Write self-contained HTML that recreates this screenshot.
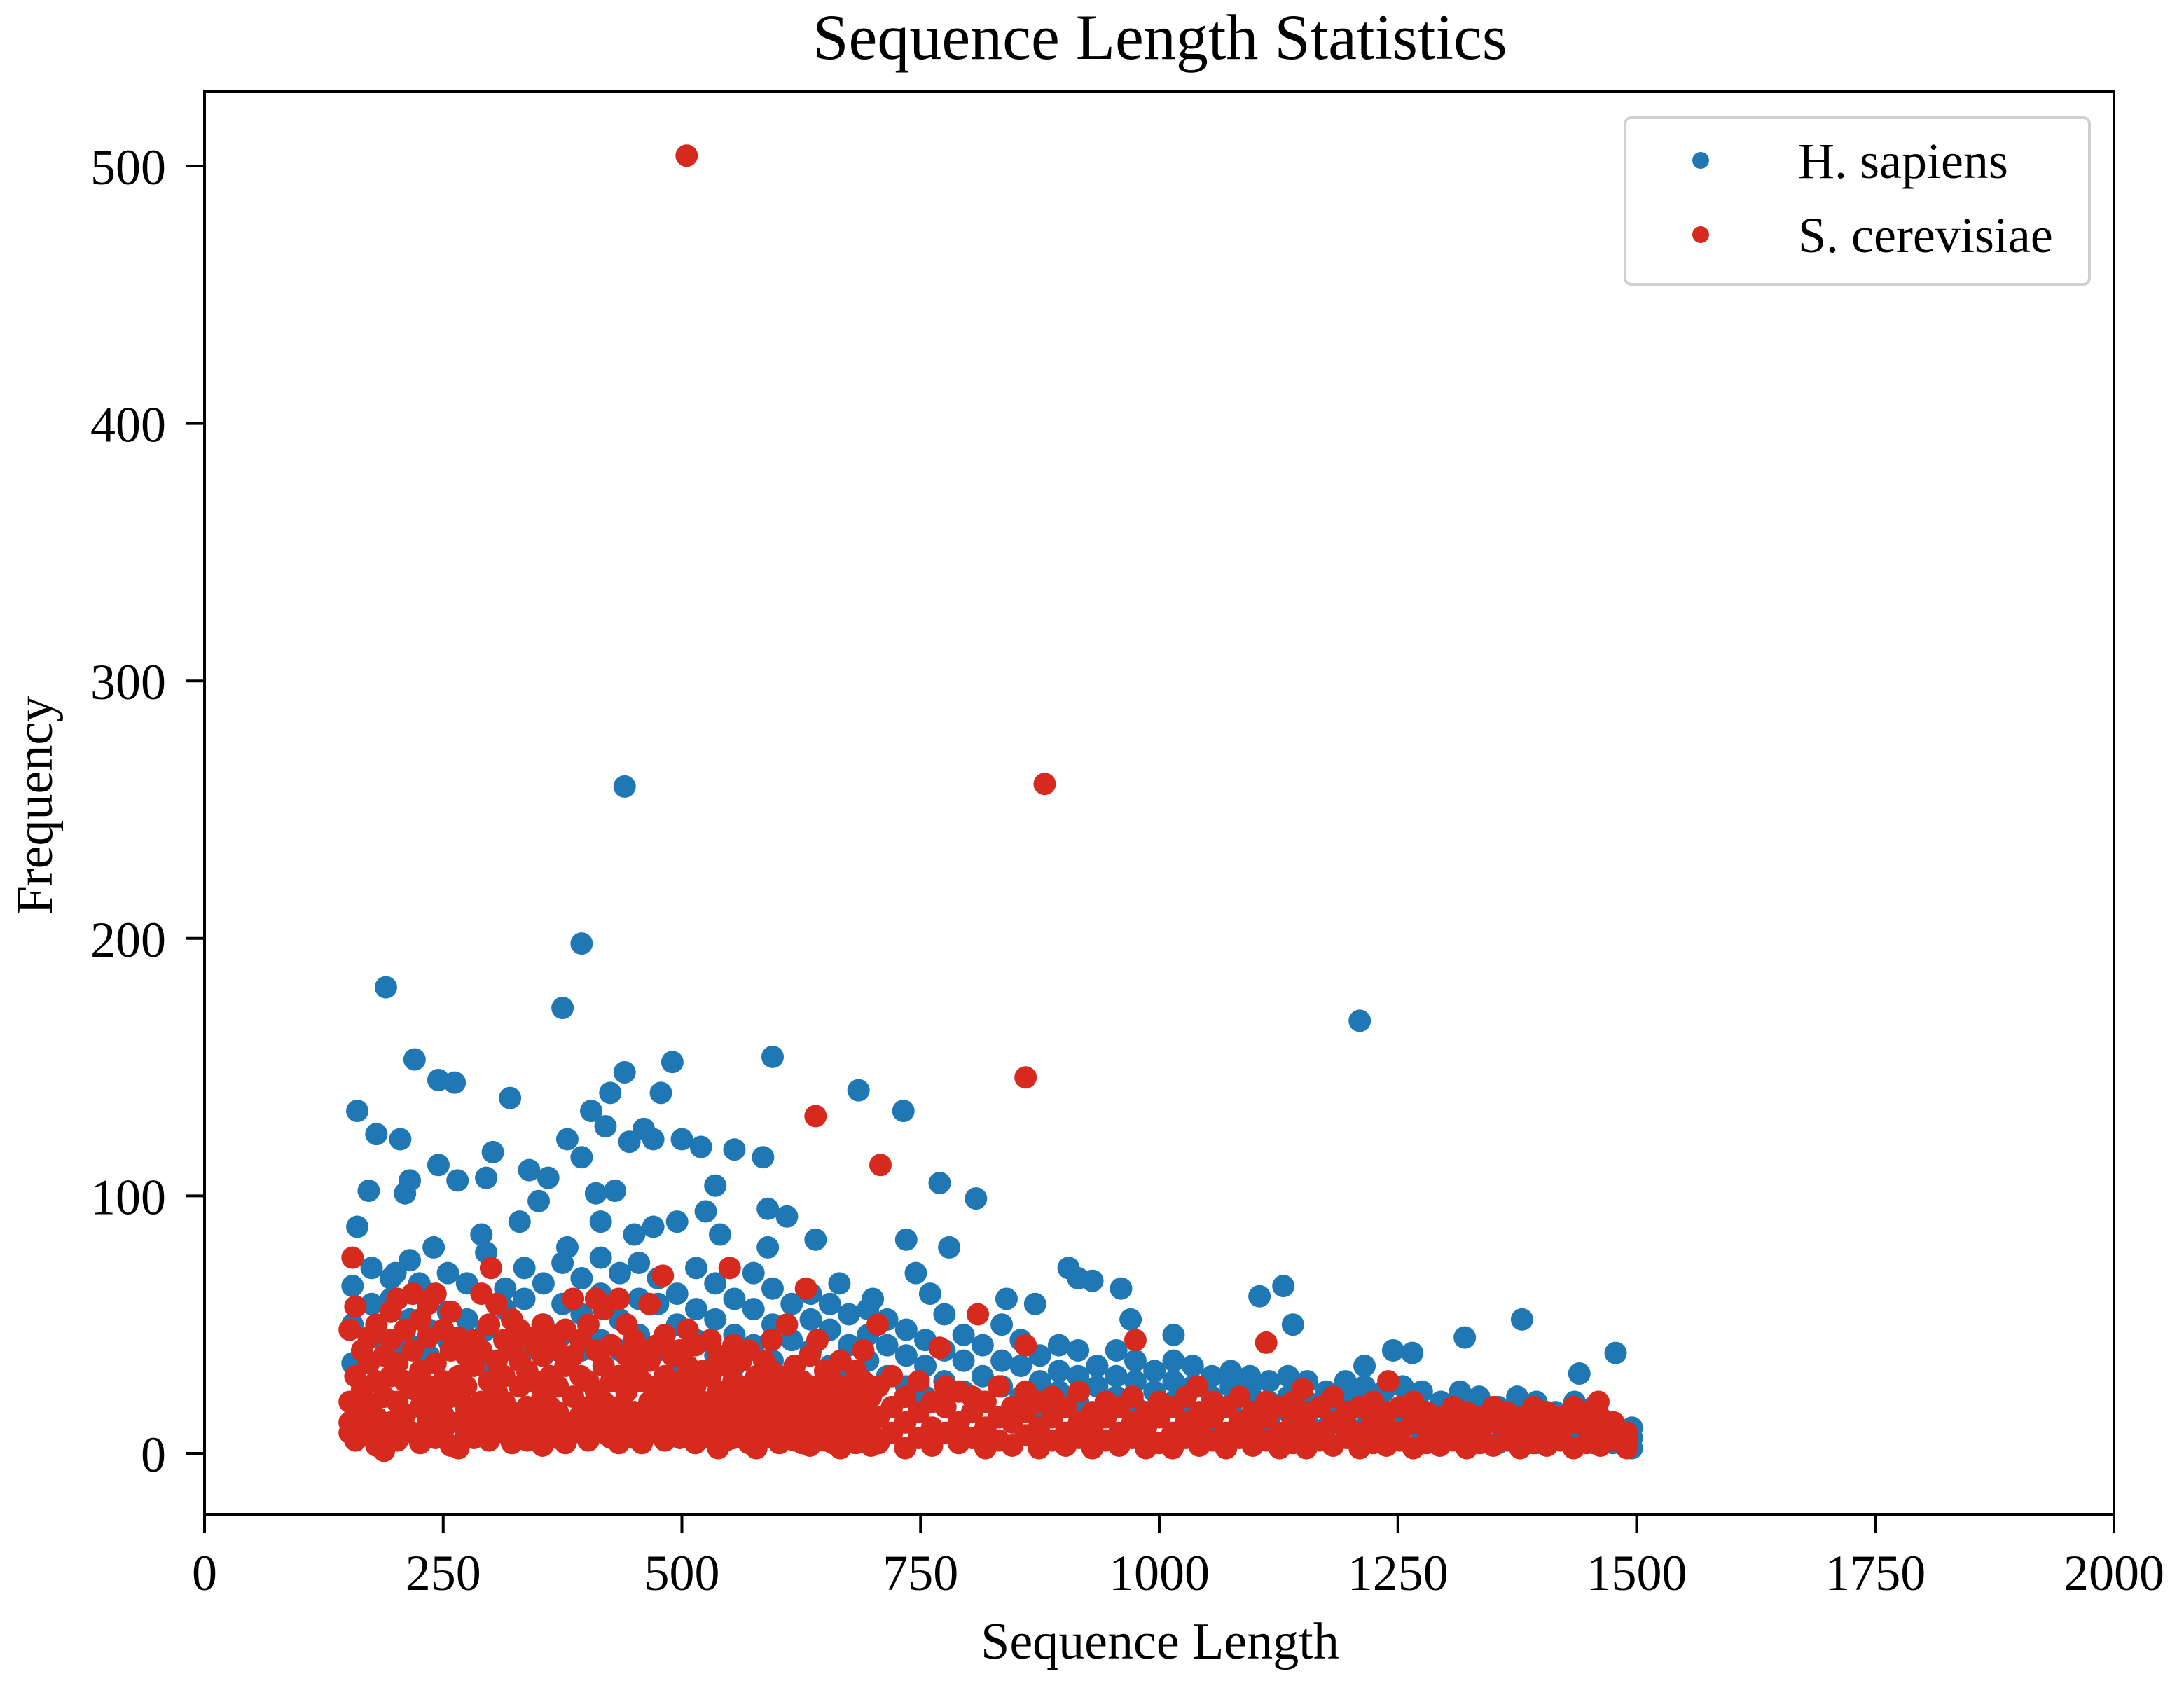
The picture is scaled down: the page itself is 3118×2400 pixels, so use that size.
<!DOCTYPE html>
<html><head><meta charset="utf-8"><style>
html,body{margin:0;padding:0;background:#fff}
svg{display:block}
text{font-family:"Liberation Serif",serif;fill:#000}
</style></head><body>
<svg id="chart" width="3118" height="2400" viewBox="0 0 3118 2400" xmlns="http://www.w3.org/2000/svg">
<rect width="3118" height="2400" fill="#fff"/>
<text x="1656" y="84" font-size="92" text-anchor="middle">Sequence Length Statistics</text>
<g id="marks"></g>
<rect x="292" y="131" width="2726" height="2031" fill="none" stroke="#000" stroke-width="4"/>
<g id="axes"></g>
<text x="1656" y="2368" font-size="74" text-anchor="middle">Sequence Length</text>
<text transform="translate(74,1150) rotate(-90)" font-size="74" text-anchor="middle">Frequency</text>
<g>
<rect x="2320" y="168" width="663" height="238" rx="9" fill="#fff" stroke="#d0d0d0" stroke-width="4"/>
<circle cx="2428" cy="229" r="12" fill="#1f77b4"/>
<text x="2567" y="254" font-size="72">H. sapiens</text>
<circle cx="2428" cy="335" r="12" fill="#d62a1e"/>
<text x="2567" y="360" font-size="72">S. cerevisiae</text>
</g>
</svg>
<script>
const xTicks = [0,250,500,750,1000,1250,1500,1750,2000];
const yTicks = [0,100,200,300,400,500];
const blueOutliers = [[440,259],[190,181],[395,198],[375,173],[1210,168],[595,154],[220,153],[490,152],[160,133],[320,138],[685,141],[732,133],[245,145],[262,144],[440,148],[478,140],[425,140],[405,133],[420,127],[460,126],[470,122],[445,121],[500,122],[520,119],[555,118],[585,115],[380,122],[395,115],[302,117],[180,124],[205,122],[172,102],[210,101],[215,106],[245,112],[265,106],[295,107],[340,110],[360,107],[410,101],[430,102],[535,104],[770,105],[808,99],[590,95],[525,94],[350,98],[495,90],[610,92],[640,83],[735,83],[780,80],[905,72],[915,68],[930,67],[870,58],[960,64],[970,52],[1015,46],[1105,61],[1130,65],[1140,50],[1320,45],[1380,52],[1265,39],[1478,39],[1440,31],[1215,34],[1245,40],[840,60],[665,66],[700,60],[745,70],[760,62],[590,80],[540,85],[470,88],[450,85],[415,90],[380,80],[330,90],[290,85],[160,88],[200,70],[240,80],[225,66]];
const blueBulk = [[155,[35,65,50]],[175,[45,72,58]],[195,[40,60,68]],[215,[52,75,42]],[235,[38,62,48]],[255,[55,70,44]],[275,[42,66,52]],[295,[48,78,36]],[315,[56,64,44]],[335,[40,72,60]],[355,[50,66,38]],[375,[46,58,74]],[395,[54,68,40]],[415,[44,62,76]],[435,[52,70,40]],[455,[46,60,74]],[475,[40,58,68]],[495,[50,62,36]],[515,[44,56,72]],[535,[38,52,66]],[555,[46,60,34]],[575,[42,56,70]],[595,[36,50,64]],[615,[44,58,30]],[635,[40,52,62]],[655,[34,48,58]],[675,[42,54,30]],[695,[36,46,56]],[715,[30,42,52]],[735,[26,38,48]],[755,[34,44,22]],[775,[28,40,54]],[795,[24,36,46]],[815,[30,42,20]],[835,[26,36,50]],[855,[22,34,44]],[875,[28,38,18]],[895,[24,32,42]],[915,[20,30,40]],[935,[26,34,16]],[955,[22,30,40]],[975,[18,28,36]],[995,[24,32,14]],[1015,[20,28,36]],[1035,[16,26,34]],[1055,[22,30,12]],[1075,[18,26,32]],[1095,[14,24,30]],[1115,[20,28,12]],[1135,[16,22,30]],[1155,[12,20,28]],[1175,[18,24,10]],[1195,[14,22,28]],[1215,[10,20,26]],[1235,[16,24,8]],[1255,[12,18,26]],[1275,[8,16,24]],[1295,[14,20,6]],[1315,[10,18,24]],[1335,[6,14,22]],[1355,[12,18,4]],[1375,[8,16,22]],[1395,[4,12,20]],[1415,[10,16,6]],[1435,[6,14,20]],[1455,[4,10,18]],[1475,[8,12,4]],[1495,[2,6,10]]];
const redOutliers = [[505,504],[880,260],[860,146],[640,131],[708,112],[480,69],[550,72],[155,76],[300,72],[810,54],[975,44],[1112,43],[630,64],[705,50],[770,41],[860,42],[1040,26],[1150,25],[1240,28],[1460,20]];
const redBulk = [[152,[12,20,48,8]],[158,[30,57,16,5]],[165,[10,25,40,22]],[172,[7,18,35,45]],[180,[14,28,3,50]],[188,[22,38,9,1]],[195,[12,44,30,55]],[202,[5,20,60,35]],[210,[15,28,48,10]],[218,[8,40,62,25]],[226,[18,32,52,4]],[234,[12,26,45,58]],[242,[6,35,20,62]],[250,[15,48,28,9]],[258,[3,22,40,55]],[266,[12,30,45,2]],[274,[8,18,38,26]],[282,[14,34,44,6]],[290,[20,40,10,62]],[298,[5,28,50,16]],[306,[12,36,58,24]],[314,[8,20,44,30]],[322,[16,40,4,52]],[330,[10,26,36,48]],[338,[5,18,32,45]],[346,[14,28,42,8]],[354,[3,22,38,50]],[362,[10,30,46,18]],[370,[6,16,26,40]],[378,[12,34,48,4]],[386,[8,22,38,60]],[394,[15,30,44,10]],[402,[5,18,28,50]],[410,[12,24,40,60]],[418,[8,20,34,56]],[426,[14,28,42,6]],[434,[4,18,30,60]],[442,[10,24,38,50]],[450,[6,16,32,44]],[458,[12,28,40,4]],[466,[8,20,36,58]],[474,[14,26,42,10]],[482,[5,18,30,46]],[490,[12,24,38,8]],[498,[6,16,28,40]],[506,[10,22,34,48]],[514,[4,14,26,42]],[522,[12,20,32,6]],[530,[8,18,30,44]],[538,[2,14,24,38]],[546,[10,20,34,5]],[554,[6,16,28,42]],[562,[12,22,36,8]],[570,[4,14,26,40]],[578,[10,18,30,2]],[586,[6,16,24,36]],[594,[12,20,32,44]],[602,[4,14,26,8]],[610,[8,18,30,50]],[618,[5,12,22,34]],[626,[10,20,28,4]],[634,[3,14,24,38]],[642,[8,16,26,44]],[650,[5,12,20,32]],[658,[10,18,28,4]],[666,[2,14,24,36]],[674,[8,16,26,6]],[682,[4,12,20,32]],[690,[10,18,28,40]],[698,[3,14,22,8]],[706,[4,14,26]],[720,[8,18,30]],[734,[2,12,22]],[748,[6,16,28]],[762,[3,10,20]],[776,[8,18,26]],[790,[4,12,24]],[804,[6,16,22]],[818,[2,10,20]],[832,[5,14,26]],[846,[3,12,18]],[860,[7,16,24]],[874,[2,10,20]],[888,[5,14,22]],[902,[3,8,18]],[916,[6,12,24]],[930,[2,10,16]],[944,[5,14,20]],[958,[3,8,18]],[972,[6,12,22]],[986,[2,10,16]],[1000,[4,14,20]],[1014,[2,8,18]],[1028,[6,12,22]],[1042,[3,10,16]],[1056,[5,14,20]],[1070,[2,8,18]],[1084,[6,12,22]],[1098,[3,10,16]],[1112,[5,14,20]],[1126,[2,8,18]],[1140,[4,12,20]],[1154,[2,10,16]],[1168,[5,8,18]],[1182,[3,12,22]],[1196,[6,10,16]],[1210,[2,8,18]],[1224,[4,12,20]],[1238,[3,10,16]],[1252,[5,8,18]],[1266,[2,12,20]],[1280,[4,10,16]],[1294,[3,8,14]],[1308,[5,12,18]],[1322,[2,10,16]],[1336,[4,8,14]],[1350,[3,12,18]],[1364,[5,10,16]],[1378,[2,8,14]],[1392,[4,12,18]],[1406,[3,10,16]],[1420,[5,8,14]],[1434,[2,12,18]],[1448,[4,10,16]],[1462,[3,8,14]],[1476,[5,12,10]],[1490,[2,8,6]]];

const NS = 'http://www.w3.org/2000/svg';
const X0 = 292, X1 = 3018, Y0 = 2075, Y500 = 237;
function xScale(v){ return X0 + (X1 - X0) * v / 2000; }
function yScale(v){ return Y0 - (Y0 - Y500) * v / 500; }
const marks = document.getElementById('marks');
const axes = document.getElementById('axes');

function expand(bulk){ const out=[]; bulk.forEach(([x,ys])=>ys.forEach(y=>out.push([x,y]))); return out; }
function drawSeries(points, color, name){
  const g = document.createElementNS(NS,'g');
  
  
  points.forEach(([x,y])=>{
    const c = document.createElementNS(NS,'circle');
    c.setAttribute('cx', xScale(x));
    c.setAttribute('cy', yScale(y));
    c.setAttribute('r', 16);
    c.setAttribute('fill', color);
    
    
    g.appendChild(c);
  });
  marks.appendChild(g);
}
drawSeries(expand(blueBulk).concat(blueOutliers), '#1f77b4', 'h-sapiens');
drawSeries(expand(redBulk).concat(redOutliers), '#d62a1e', 's-cerevisiae');

xTicks.forEach(t=>{
  const x = xScale(t);
  const l = document.createElementNS(NS,'line');
  l.setAttribute('x1',x); l.setAttribute('x2',x); l.setAttribute('y1',2162); l.setAttribute('y2',2189);
  l.setAttribute('stroke','#000'); l.setAttribute('stroke-width','4');
  
  
  axes.appendChild(l);
  const tx = document.createElementNS(NS,'text');
  tx.setAttribute('x',x); tx.setAttribute('y',2270); tx.setAttribute('font-size','72'); tx.setAttribute('text-anchor','middle');
  tx.textContent = t;
  
  
  axes.appendChild(tx);
});
yTicks.forEach(t=>{
  const y = yScale(t);
  const l = document.createElementNS(NS,'line');
  l.setAttribute('x1',265); l.setAttribute('x2',292); l.setAttribute('y1',y); l.setAttribute('y2',y);
  l.setAttribute('stroke','#000'); l.setAttribute('stroke-width','4');
  
  
  axes.appendChild(l);
  const tx = document.createElementNS(NS,'text');
  tx.setAttribute('x',237); tx.setAttribute('y',y+26); tx.setAttribute('font-size','72'); tx.setAttribute('text-anchor','end');
  tx.textContent = t;
  
  
  axes.appendChild(tx);
});
</script>
</body></html>
